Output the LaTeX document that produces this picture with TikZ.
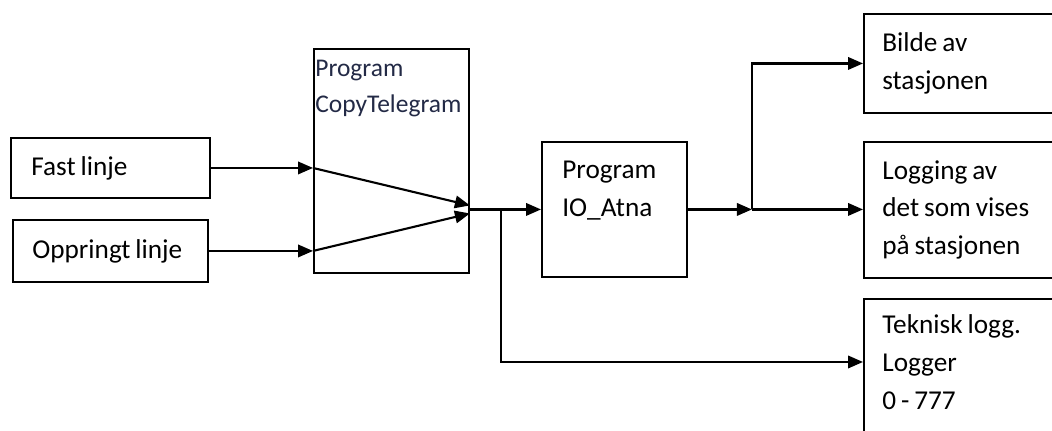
\documentclass[tikz,border=0pt]{standalone}
\usepackage{fontspec}
\setmainfont{Carlito}[WordSpace=0.8]
\usetikzlibrary{arrows.meta,positioning}
\definecolor{prgblue}{RGB}{35,42,70}
\tikzset{
    box/.style={draw, line width=1.1pt, anchor=north west, inner sep=0pt},
    boxtext/.style={anchor=north west, align=left, inner sep=0pt,
        font=\fontsize{15.5}{21.6}\selectfont},
    flow/.style={line width=1.2pt, -{Triangle[length=0.3cm,width=0.25cm]}}
}

\begin{document}
\begin{tikzpicture}[x=0.02cm,y=-0.02cm]

    \useasboundingbox[fill=white] (0,0) rectangle (1052,431);

    % Input lines.
    \node[box, minimum width=3.98cm, minimum height=1.2cm] (fast) at (10,137) {};
    \node[boxtext, right=0.42cm of fast.west] (fasttxt) {Fast linje};
    \node[box, minimum width=3.9cm, minimum height=1.24cm] (oppr) at (12,219) {};
    \node[boxtext, right=0.4cm of oppr.west] (opprtxt) {Oppringt linje};

    % Program boxes.
    \node[box, minimum width=3.1cm, minimum height=4.48cm] (copy) at (313,48) {};
    \node[boxtext, font=\fontsize{14.5}{20.5}\selectfont, text=prgblue] (copytxt) at (315,60) {Program\\CopyTelegram};
    \node[box, minimum width=2.9cm, minimum height=2.7cm] (io) at (541,141) {};
    \node[boxtext] (iotxt) at (562,161) {Program\\IO\_Atna};

    % Output boxes.
    \node[box, minimum width=4cm, minimum height=1.98cm] (bilde) at (863,13) {};
    \node[boxtext, right=0.38cm of bilde.west] (bildetxt) {Bilde av\\stasjonen};
    \node[box, minimum width=4cm, minimum height=2.72cm] (log) at (863,141) {};
    \node[boxtext, right=0.38cm of log.west] (logtxt) {Logging av\\det som vises\\på stasjonen};
    \node[box, minimum width=4cm, minimum height=3.2cm] (tek) at (863,298) {};
    \node[boxtext] (tektxt) at (882,314) {Teknisk logg.\\Logger\\0 - 777};

    % Junctions.
    \coordinate (mrg) at (io.west -| copy.east);
    \coordinate[right=0.62cm of mrg] (j1);
    \coordinate[right=1.28cm of io.east] (j2);

    % Inputs into CopyTelegram.
    \draw[flow] (fast.east) -- (fast.east -| copy.west);
    \draw[flow] (oppr.east) -- (oppr.east -| copy.west);
    \draw[flow] (fast.east -| copy.west) -- ([yshift=0.08cm]mrg);
    \draw[flow] (oppr.east -| copy.west) -- ([yshift=-0.08cm]mrg);

    % Outputs.
    \draw[flow] (mrg) -- (io.west);
    \draw[flow] (j1) |- ([yshift=-1.28cm]tek.north west);
    \draw[flow] (io.east) -- (j2);
    \draw[flow] (j2) -- (j2 -| log.west);
    \draw[flow] (j2) |- (bilde.west);

\end{tikzpicture}
\end{document}
